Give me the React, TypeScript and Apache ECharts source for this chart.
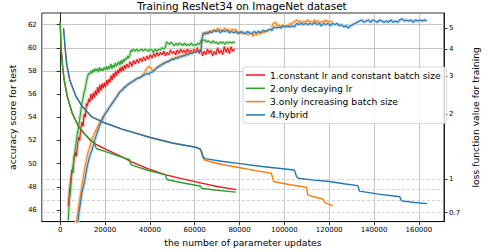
import React, { useEffect, useRef } from "react";
import * as echarts from "echarts";

const titleText = "Training ResNet34 on ImageNet dataset";
const xName = "the number of parameter updates";
const yLeftName = "accuracy score for test";
const yRightName = "loss function value for training";

const seriesNames = [
  "1.constant lr and constant batch size",
  "2.only decaying lr",
  "3.only increasing batch size",
  "4.hybrid",
];
const seriesColors = ["#e41a1c", "#2ca02c", "#ff7f0e", "#1f77b4"];
const bandColors = ["#f7c4c4", "#c3e6c3", "#ffdcbc", "#c2d9ec"];

const xTicks = [0, 20000, 40000, 60000, 80000, 100000, 120000, 140000, 160000];
const accTicks = [46, 48, 50, 52, 54, 56, 58, 60, 62];
const lossTicks = [0.7, 1, 2, 3, 4, 5];
const accGridLines = [58, 60, 62];
const lossGridLines = [1, 0.9, 0.8, 0.7];

// accuracy (left axis)
const accConstant = [
  [3600, 46.3], [4200, 47.8], [4700, 48.6], [5200, 49.5], [5700, 49.2], [6200, 50.4], [6700, 51.0], [7200, 50.6],
  [7700, 51.6], [8200, 52.3], [8700, 52.0], [9200, 53.1], [9700, 53.6], [10200, 53.2], [10700, 54.3], [11200, 54.0],
  [11700, 55.2], [12200, 55.0], [12700, 55.6], [13200, 55.3], [13700, 56.0], [14200, 55.5], [14700, 56.1], [15200, 55.7],
  [15700, 56.3], [16200, 55.9], [16700, 56.6], [17200, 56.1], [17700, 56.8], [18200, 56.3], [18700, 56.9], [19200, 56.5],
  [19700, 57.0], [20200, 56.6], [20700, 57.2], [21200, 56.8], [21700, 57.3], [22200, 57.0], [22700, 57.6], [23200, 57.2],
  [23700, 57.8], [24200, 57.4], [24700, 58.0], [25200, 57.6], [25700, 58.1], [26200, 57.8], [26700, 58.3], [27200, 57.9],
  [27700, 58.4], [28200, 58.0], [28700, 58.5], [29200, 58.2], [29700, 58.6], [30500, 58.3], [31200, 58.8], [32000, 58.4],
  [32700, 58.9], [33500, 58.6], [34200, 59.0], [35000, 58.7], [35700, 59.1], [36500, 58.8], [37200, 59.2], [38000, 58.9],
  [38700, 59.3], [39500, 59.0], [40200, 59.4], [41000, 59.1], [41700, 59.5], [42500, 59.2], [43200, 59.6], [44000, 59.3],
  [44700, 59.6], [45500, 59.4], [46200, 59.7], [47000, 59.3], [47700, 59.6], [48500, 59.4], [49200, 59.8], [50000, 59.5],
  [50700, 59.7], [51500, 59.4], [52200, 59.8], [53000, 59.5], [53700, 59.9], [54500, 59.6], [55200, 59.8], [56000, 59.5],
  [56700, 59.9], [57500, 59.6], [58200, 59.8], [59000, 59.5], [59700, 59.9], [60500, 59.6], [61200, 60.0], [62000, 59.5],
  [62700, 59.9], [63500, 59.3], [64200, 59.7], [65000, 59.4], [65700, 59.9], [66500, 59.5], [67200, 59.8], [68000, 59.3],
  [68700, 59.7], [69500, 59.4], [70200, 60.0], [71000, 59.5], [71700, 59.8], [72500, 59.4], [73200, 60.1], [74000, 59.6],
  [74700, 60.0], [75500, 59.5], [76200, 60.1], [77000, 59.7], [77800, 59.9],
];

const accDecayLr = [
  [3600, 45.1], [4100, 46.8], [4600, 47.6], [5100, 48.9], [5600, 49.6], [6100, 50.5], [6600, 51.1], [7100, 51.8],
  [7600, 52.5], [8100, 53.0], [8600, 53.7], [9100, 54.4], [9600, 55.1], [10100, 55.6], [10600, 56.1], [11100, 56.4],
  [11600, 57.0], [12100, 57.4], [12600, 57.8], [13100, 57.7], [13600, 58.0], [14100, 57.8], [14600, 58.1], [15100, 57.9],
  [15600, 58.2], [16100, 58.0], [16600, 58.2], [17100, 57.9], [17600, 58.3], [18100, 58.0], [18600, 58.2], [19100, 58.0],
  [19600, 58.3], [20100, 58.1], [20600, 58.4], [21100, 58.1], [21600, 58.4], [22100, 58.2], [22600, 58.6], [23100, 58.2],
  [23600, 58.5], [24100, 58.3], [24600, 58.7], [25100, 58.4], [25600, 58.6], [26100, 58.8], [26600, 58.5], [27100, 58.9],
  [27600, 58.6], [28100, 59.0], [28600, 58.8], [29100, 59.1], [29600, 59.0], [30100, 59.3], [30600, 59.1], [31100, 59.4],
  [31600, 59.8], [32100, 59.7], [32600, 59.9], [33400, 59.7], [34100, 59.9], [34900, 59.7], [35600, 59.8], [36400, 59.9],
  [37100, 59.7], [37900, 59.9], [38600, 59.8], [39400, 59.7], [40100, 59.9], [40900, 59.8], [41600, 59.6], [42400, 59.9],
  [43100, 59.7], [43900, 59.9], [44600, 59.8], [45400, 60.0], [46100, 59.9], [46900, 60.0], [47400, 60.5], [48000, 60.4],
  [48700, 60.3], [49500, 60.5], [50200, 60.3], [51000, 60.2], [51700, 60.4], [52500, 60.2], [53200, 60.4], [54000, 60.3],
  [54700, 60.2], [55500, 60.4], [56200, 60.2], [57000, 60.3], [57700, 60.2], [58500, 60.4], [59200, 60.2], [60000, 60.3],
  [60700, 60.2], [61500, 60.4], [62200, 60.3], [63000, 60.7], [63700, 60.6], [64500, 60.7], [65200, 60.5], [66000, 60.6],
  [66700, 60.5], [67500, 60.4], [68200, 60.6], [69000, 60.4], [69700, 60.5], [70500, 60.3], [71200, 60.5], [72000, 60.4],
  [72700, 60.5], [73500, 60.3], [74200, 60.5], [75000, 60.4], [75700, 60.5], [76500, 60.4], [77200, 60.5], [78000, 60.4],
];

const accIncBatch = [
  [6900, 44.4], [7300, 45.0], [8000, 46.0], [8700, 46.9], [9400, 47.7], [10100, 48.6], [10800, 49.4], [11500, 50.1],
  [12200, 50.8], [13000, 51.3], [13700, 51.8], [14400, 52.2], [15100, 52.5], [15800, 52.8], [16500, 53.1], [17200, 53.4],
  [17900, 53.6], [18600, 53.9], [19300, 54.1], [20000, 54.3], [20700, 54.5], [21400, 54.7], [22100, 54.9], [22800, 55.1],
  [23500, 55.3], [24200, 55.5], [24900, 55.7], [25600, 55.9], [26300, 56.1], [27000, 56.3], [27800, 56.4], [28600, 56.6],
  [29400, 56.7], [30200, 56.8], [31000, 56.9], [31800, 57.0], [32600, 57.1], [33400, 57.2], [34200, 57.3], [35000, 57.4],
  [35800, 57.5], [36600, 57.6], [37400, 57.8], [38200, 58.1], [39000, 58.3], [39800, 58.4], [40600, 58.2], [41400, 58.0],
  [42200, 58.1], [43000, 58.3], [43800, 58.4], [44600, 58.5], [45400, 58.6], [46200, 58.7], [47000, 58.7], [47800, 58.8],
  [48600, 58.9], [49400, 59.0], [50200, 59.1], [51000, 59.1], [51800, 59.2], [52600, 59.2], [53400, 59.3], [54200, 59.3],
  [55000, 59.4], [55800, 59.4], [56600, 59.5], [57400, 59.5], [58200, 59.6], [59000, 59.6], [59800, 59.7], [60600, 59.7],
  [61400, 59.8], [62200, 59.8], [62900, 59.9], [63400, 60.8], [63800, 61.3], [64600, 61.1], [65400, 61.4], [66200, 61.2],
  [67000, 61.5], [67800, 61.3], [68600, 61.6], [69400, 61.4], [70200, 61.7], [71000, 61.5], [71800, 61.6], [72600, 61.4],
  [73400, 61.7], [74200, 61.5], [75000, 61.6], [75800, 61.4], [76600, 61.6], [77400, 61.5], [78200, 61.6], [79000, 61.3],
  [79800, 61.4], [80600, 61.2], [81400, 61.4], [82200, 61.2], [83000, 61.3], [83800, 61.1], [84600, 61.3], [85400, 61.2],
  [86200, 61.0], [87000, 61.3], [87800, 61.1], [88600, 61.3], [89400, 61.2], [90200, 61.4], [91000, 61.3], [91800, 61.5],
  [92600, 61.4], [93400, 61.6], [94200, 61.5], [94700, 62.0], [95200, 62.1], [96000, 62.2], [96800, 61.9], [97600, 62.0],
  [98400, 61.8], [99200, 62.0], [100000, 61.8], [100800, 61.9], [101600, 61.8], [102400, 62.1], [103200, 62.0], [104000, 62.2],
  [104800, 62.3], [105600, 62.4], [106400, 62.2], [107200, 62.3], [108000, 62.1], [108800, 62.3], [109600, 62.2], [110400, 62.4],
  [111200, 62.2], [112000, 62.3], [112800, 62.2], [113600, 62.4], [114400, 62.2], [115200, 62.3], [116000, 62.1], [116800, 62.3],
  [117600, 62.2], [118400, 62.4], [119200, 62.2], [120000, 62.3], [120800, 62.2], [121500, 62.3],
];

const accHybrid = [
  [7400, 44.3], [7900, 45.0], [8500, 45.9], [9100, 46.7], [9700, 47.5], [10300, 48.0], [10900, 48.5], [11500, 49.2],
  [12100, 49.8], [12700, 50.3], [13400, 50.8], [14100, 51.1], [14800, 51.6], [15500, 52.1], [16200, 52.5], [16900, 52.9],
  [17600, 53.3], [18300, 53.6], [19000, 53.9], [19700, 54.2], [20400, 54.4], [21100, 54.6], [21800, 54.8], [22500, 55.0],
  [23200, 55.2], [23900, 55.4], [24600, 55.6], [25300, 55.8], [26000, 56.0], [26700, 56.2], [27500, 56.3], [28300, 56.5],
  [29100, 56.6], [29900, 56.8], [30700, 56.9], [31500, 57.0], [32300, 57.1], [33100, 57.2], [33900, 57.3], [34700, 57.4],
  [35500, 57.4], [36300, 57.5], [37100, 57.6], [37900, 57.7], [38700, 57.8], [39500, 57.7], [40300, 57.9], [41100, 57.9],
  [41900, 58.0], [42700, 58.2], [43500, 58.3], [44300, 58.4], [45100, 58.5], [45900, 58.6], [46700, 58.7], [47500, 58.8],
  [48300, 58.8], [49100, 58.9], [49900, 59.0], [50700, 59.0], [51500, 59.1], [52300, 59.1], [53100, 59.2], [53900, 59.2],
  [54700, 59.3], [55500, 59.3], [56300, 59.4], [57100, 59.4], [57900, 59.5], [58700, 59.5], [59500, 59.6], [60300, 59.6],
  [61100, 59.7], [61900, 59.7], [62700, 59.8], [63200, 60.6], [63700, 61.2], [64500, 61.3], [65500, 61.2], [66500, 61.4],
  [67500, 61.3], [68500, 61.5], [69500, 61.4], [70500, 61.5], [71500, 61.3], [72500, 61.5], [73500, 61.4], [74500, 61.5],
  [75500, 61.3], [76500, 61.4], [77500, 61.3], [78500, 61.4], [79500, 61.2], [80500, 61.4], [81500, 61.3], [82500, 61.2],
  [83500, 61.4], [84500, 61.3], [85500, 61.2], [86500, 61.4], [87500, 61.3], [88500, 61.4], [89500, 61.3], [90500, 61.5],
  [91500, 61.4], [92500, 61.5], [93500, 61.6], [94500, 61.5], [95500, 61.8], [96500, 61.7], [97500, 61.8], [98500, 61.7],
  [99500, 61.9], [100500, 61.8], [101500, 61.9], [102500, 61.8], [103500, 61.9], [104500, 61.8], [105500, 62.1], [106500, 62.0],
  [107500, 62.1], [108500, 62.0], [109500, 62.1], [110500, 62.0], [111500, 62.1], [112500, 62.0], [113500, 62.2], [114500, 62.0],
  [115500, 62.1], [116500, 61.9], [117500, 62.1], [118500, 62.0], [119500, 62.1], [120500, 61.9], [121500, 62.1], [122500, 62.0],
  [123500, 62.1], [124500, 61.9], [125500, 62.0], [126500, 61.8], [127500, 61.9], [128500, 61.7], [129500, 61.9], [130500, 62.0],
  [131500, 62.1], [132500, 62.2], [133500, 62.3], [134500, 62.4], [135500, 62.2], [136500, 62.3], [137500, 62.4], [138500, 62.2],
  [139500, 62.4], [140500, 62.3], [141500, 62.2], [142500, 62.4], [143500, 62.3], [144500, 62.2], [145500, 62.3], [146500, 62.2],
  [147500, 62.4], [148500, 62.2], [149500, 62.3], [150500, 62.2], [151500, 62.4], [152500, 62.5], [153500, 62.3], [154500, 62.4],
  [155500, 62.3], [156500, 62.4], [157500, 62.2], [158500, 62.4], [159500, 62.3], [160500, 62.4], [161500, 62.3], [162500, 62.4],
  [163600, 62.3],
];

// training loss (right axis, log scale)
const lossConstant = [
  [0, 5.36], [400, 4.06], [1100, 3.3], [1800, 2.87], [3200, 2.41], [5300, 2.03], [8100, 1.76], [10900, 1.62],
  [13700, 1.51], [15800, 1.455], [20000, 1.38], [24000, 1.32], [27600, 1.267], [31800, 1.203], [39000, 1.12],
  [47200, 1.047], [55000, 1.0], [63100, 0.959], [70000, 0.925], [78500, 0.895],
];
const lossDecayLr = [
  [0, 5.36], [400, 4.06], [1100, 3.3], [1800, 2.87], [3200, 2.41], [5300, 2.03], [8100, 1.76], [10900, 1.62],
  [13700, 1.51], [15500, 1.46], [15900, 1.4], [16500, 1.38], [20000, 1.345], [25000, 1.29], [31000, 1.23],
  [31300, 1.19], [31700, 1.165], [39000, 1.1], [47000, 1.047], [47300, 1.01], [47800, 0.994], [55000, 0.96],
  [62700, 0.927], [63000, 0.91], [63500, 0.905], [70000, 0.888], [78400, 0.871],
];
const lossIncBatch = [
  [1500, 5.0], [2200, 4.06], [2900, 3.41], [4300, 2.87], [7100, 2.41], [9900, 2.17], [13900, 1.95], [20000, 1.82],
  [27900, 1.7], [40200, 1.56], [50000, 1.47], [60400, 1.406], [62400, 1.38], [63000, 1.33], [63600, 1.26],
  [64600, 1.224], [72000, 1.17], [80200, 1.13], [87000, 1.095], [94200, 1.065], [94700, 1.02], [95200, 0.976],
  [102000, 0.945], [109800, 0.917], [110200, 0.88], [110500, 0.844], [114000, 0.825], [117400, 0.807],
  [117800, 0.79], [118100, 0.779], [121600, 0.752],
];
const lossHybrid = [
  [1500, 5.0], [2200, 4.06], [2900, 3.41], [4300, 2.87], [7100, 2.41], [9900, 2.17], [13900, 1.95], [20000, 1.82],
  [27900, 1.7], [40200, 1.56], [50000, 1.47], [60400, 1.406], [62400, 1.38], [63000, 1.35], [63600, 1.28],
  [64500, 1.245], [72000, 1.21], [80200, 1.18], [90000, 1.145], [100300, 1.115], [104200, 1.103], [104800, 1.08],
  [105400, 1.03], [106300, 1.01], [113000, 0.99], [120200, 0.976], [126500, 0.953], [132700, 0.934],
  [133100, 0.91], [133500, 0.88], [142000, 0.853], [151500, 0.829], [151900, 0.81], [152300, 0.793],
  [158000, 0.78], [163600, 0.77],
];

const accData = [accConstant, accDecayLr, accIncBatch, accHybrid];
const lossData = [lossConstant, lossDecayLr, lossIncBatch, lossHybrid];

const FONT = "DejaVu Sans";

export default function App() {
  const ref = useRef<HTMLDivElement>(null);
  useEffect(() => {
    if (!ref.current) return;
    const chart = echarts.init(ref.current, undefined, { renderer: "svg" });

    const bandSeries = accData.map((d, i) => ({
      name: "band" + i,
      type: "line",
      xAxisIndex: 0,
      yAxisIndex: 0,
      data: d,
      showSymbol: false,
      symbol: "none",
      silent: true,
      color: bandColors[i],
      lineStyle: { width: 3.5, color: bandColors[i] },
      z: 1,
    }));

    const accSeries = accData.map((d, i) => ({
      name: seriesNames[i],
      type: "line",
      xAxisIndex: 0,
      yAxisIndex: 0,
      data: d,
      showSymbol: false,
      symbol: "none",
      color: seriesColors[i],
      lineStyle: { width: 1.1, color: seriesColors[i] },
      z: 2,
      ...(i === 0
        ? {
            markLine: {
              silent: true,
              symbol: ["none", "none"],
              label: { show: false },
              lineStyle: { type: "solid", color: "#b8b8b8", width: 0.8 },
              data: accGridLines.map((v) => ({ yAxis: v })),
              z: 0,
            },
          }
        : {}),
    }));

    const lossSeries = lossData.map((d, i) => ({
      name: seriesNames[i],
      type: "line",
      xAxisIndex: 0,
      yAxisIndex: 1,
      data: d,
      showSymbol: false,
      symbol: "none",
      color: seriesColors[i],
      lineStyle: { width: 1.4, color: seriesColors[i] },
      z: 3,
      ...(i === 0
        ? {
            markLine: {
              silent: true,
              symbol: ["none", "none"],
              label: { show: false },
              lineStyle: { type: [3, 2], color: "#c4c4c4", width: 0.8 },
              data: lossGridLines.map((v) => ({ yAxis: v })),
              z: 0,
            },
          }
        : {}),
    }));

    chart.setOption({
      animation: false,
      textStyle: { fontFamily: FONT },
      graphic: [
        {
          type: "text",
          x: 242,
          y: 0.5,
          style: {
            text: titleText,
            fill: "#000",
            fontSize: 10.5,
            fontFamily: FONT,
            align: "center",
            verticalAlign: "top",
          },
        },
      ],
      grid: {
        left: 27,
        right: 31,
        top: 13,
        bottom: 26,
        show: true,
        borderColor: "#000",
        borderWidth: 0.8,
        backgroundColor: "transparent",
      },
      legend: {
        data: seriesNames,
        orient: "vertical",
        left: 243,
        top: 67,
        icon: "rect",
        itemWidth: 19,
        itemHeight: 1.5,
        itemGap: 2.3,
        padding: [2.5, 6, 3, 3],
        backgroundColor: "rgba(255,255,255,0.8)",
        borderColor: "#cccccc",
        borderWidth: 0.8,
        borderRadius: 3,
        textStyle: { fontFamily: FONT, fontSize: 9.2, color: "#000", lineHeight: 11 },
      },
      xAxis: {
        type: "value",
        min: -8200,
        max: 171200,
        name: xName,
        nameLocation: "middle",
        nameGap: 14,
        nameTextStyle: { fontFamily: FONT, fontSize: 9.2, color: "#000" },
        axisLine: { show: true, lineStyle: { color: "#000", width: 0.8 } },
        axisTick: { show: true, length: 3.5, customValues: xTicks, lineStyle: { color: "#000", width: 0.8 } },
        axisLabel: {
          customValues: xTicks,
          margin: 4.5,
          fontSize: 7,
          fontFamily: FONT,
          color: "#000",
          formatter: (v: number) => String(v),
        },
        splitLine: { show: true, lineStyle: { color: "#b8b8b8", width: 0.8 } },
      },
      yAxis: [
        {
          type: "value",
          min: 45,
          max: 63,
          position: "left",
          name: yLeftName,
          nameLocation: "middle",
          nameRotate: 90,
          nameGap: 13,
          nameTextStyle: { fontFamily: FONT, fontSize: 9.2, color: "#000" },
          axisLine: { show: true, lineStyle: { color: "#000", width: 0.8 } },
          axisTick: { show: true, length: 3.5, customValues: accTicks, lineStyle: { color: "#000", width: 0.8 } },
          axisLabel: { customValues: accTicks, margin: 5, fontSize: 7, fontFamily: FONT, color: "#000" },
          splitLine: { show: false },
        },
        {
          type: "log",
          logBase: 10,
          min: 0.636,
          max: 5.885,
          position: "right",
          name: yRightName,
          nameLocation: "middle",
          nameRotate: 90,
          nameGap: 20,
          nameTextStyle: { fontFamily: FONT, fontSize: 9.2, color: "#000" },
          axisLine: { show: true, lineStyle: { color: "#000", width: 0.8 } },
          axisTick: { show: true, length: 3.5, customValues: lossTicks, lineStyle: { color: "#000", width: 0.8 } },
          axisLabel: {
            customValues: lossTicks,
            margin: 5,
            fontSize: 7,
            fontFamily: FONT,
            color: "#000",
            formatter: (v: number) => String(v),
          },
          splitLine: { show: false },
        },
      ],
      series: [...bandSeries, ...accSeries, ...lossSeries],
    });

    return () => chart.dispose();
  }, []);

  return (
    <div
      ref={ref}
      style={{ position: "absolute", left: 0, top: 0, width: 488, height: 252, background: "#fff" }}
    />
  );
}
